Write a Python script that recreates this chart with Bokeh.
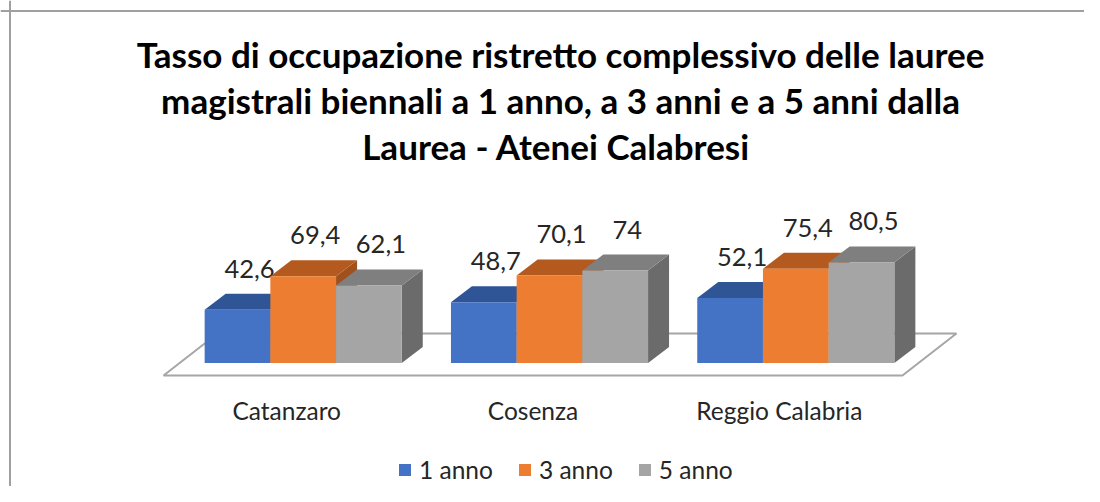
import numpy as np
from bokeh.plotting import figure
from bokeh.models import ColumnDataSource, Range1d, Label, Legend, LegendItem, Span
from bokeh.core.properties import value
from bokeh.embed import file_html
from bokeh.resources import INLINE

# ---------------- data ----------------
categories = ["Catanzaro", "Cosenza", "Reggio Calabria"]
series_names = ["1 anno", "3 anno", "5 anno"]
anno_1 = [42.6, 48.7, 52.1]
anno_3 = [69.4, 70.1, 75.4]
anno_5 = [62.1, 74.0, 80.5]
title_lines = [
    "Tasso di occupazione ristretto complessivo delle lauree",
    "magistrali biennali a 1 anno, a 3 anni e a 5 anni dalla",
    "Laurea  - Atenei Calabresi",
]

# ---------------- styles ----------------
front_colors = ["#4472C4", "#ED7D31", "#A5A5A5"]
top_colors = ["#2F5597", "#B45A1E", "#7F7F7F"]
side_colors = ["#2A4C88", "#A0501A", "#6B6B6B"]
FONT = "Lato"

W, H = 1084, 486
PXU = 246.3     # pixels per category unit
PYU = 1.25      # pixels per value unit
X0 = 286.2      # canvas x of first category
Y0 = 362.5      # canvas y (from top) of value 0

p = figure(width=W, height=H, output_backend="svg", toolbar_location=None,
           x_range=Range1d(-X0 / PXU, (W - X0) / PXU),
           y_range=Range1d((Y0 - H) / PYU, Y0 / PYU),
           min_border=0, outline_line_color=None)
p.axis.visible = False
p.grid.visible = False
p.background_fill_color = "white"
p.border_fill_color = "white"

# chart border (left and top visible)
p.add_layout(Span(location=(9.5 - X0) / PXU, dimension="height", line_color="#A0A0A0", line_width=2))
p.add_layout(Span(location=(Y0 - 10.5) / PYU, dimension="width", line_color="#A0A0A0", line_width=2))

# floor
n = len(categories)
FY = -12.5 / PYU
FDX, FDY = 54 / PXU, 42 / PYU
p.patch([-0.5, n - 0.5, n - 0.5 + FDX, -0.5 + FDX], [FY, FY, FY + FDY, FY + FDY],
        fill_color="white", line_color="#A6A6A6", line_width=2)

# 3D bars
BW = 65.7 / PXU
GOFF = 16.5 / PXU
DX, DY = 21 / PXU, 16 / PYU
idx = np.arange(n)
renderers = []
for j, vals in enumerate([anno_1, anno_3, anno_5]):
    v = np.array(vals)
    left = idx + GOFF + (j - 1.5) * BW
    right = left + BW
    side_xs = [[r, r, r + DX, r + DX] for r in right]
    side_ys = [[0, h, h + DY, DY] for h in v]
    top_xs = [[l, r, r + DX, l + DX] for l, r in zip(left, right)]
    top_ys = [[h, h, h + DY, h + DY] for h in v]
    p.patches(side_xs, side_ys, fill_color=side_colors[j], line_color=None)
    p.patches(top_xs, top_ys, fill_color=top_colors[j], line_color=None)
    r = p.quad(left=left, right=right, bottom=0, top=v, fill_color=front_colors[j], line_color=None)
    renderers.append(r)
    src = ColumnDataSource(dict(x=(left + right) / 2 + 12 / PXU, y=v + 41 / PYU,
                                t=[f"{x:g}".replace(".", ",") for x in v]))
    p.text(x="x", y="y", text="t", source=src, text_align="center", text_baseline="middle",
           text_font=value(FONT), text_font_size="25.5px", text_color="#262626")

# category labels
csrc = ColumnDataSource(dict(x=idx, y=np.full(n, (Y0 - 410) / PYU), t=categories))
p.text(x="x", y="y", text="t", source=csrc, text_align="center", text_baseline="middle",
       text_font=value(FONT), text_font_size="24.5px", text_color="#262626")

# title
for k, line in enumerate(title_lines):
    p.add_layout(Label(x=560, y=H - (53 + 46 * k), x_units="screen", y_units="screen",
                       text=line, text_align="center", text_baseline="alphabetic",
                       text_font=FONT, text_font_size="35px", text_font_style="bold",
                       text_color="black"))

# legend
legend = Legend(items=[LegendItem(label=s, renderers=[r]) for s, r in zip(series_names, renderers)],
                orientation="horizontal", location=(397, 2), padding=0, margin=0,
                glyph_width=15, glyph_height=15, label_standoff=7, spacing=24,
                label_text_font=FONT, label_text_font_size="24.5px", label_text_color="#262626",
                border_line_color=None, background_fill_alpha=0)
p.add_layout(legend, "center")

open("out.html", "w").write(file_html(p, INLINE))
